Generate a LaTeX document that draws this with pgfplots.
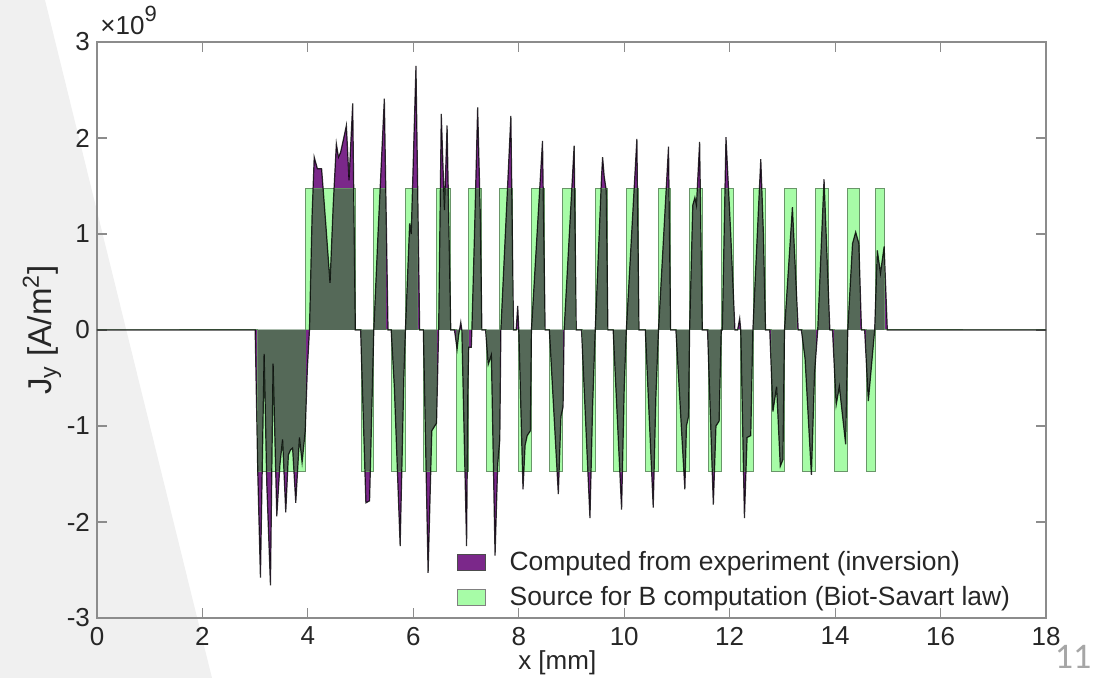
\documentclass[border=0pt]{standalone}
\usepackage{fontspec}
\setmainfont{Liberation Sans}
\newfontfamily\carlito{Carlito}
\usepackage{pgfplots}
\pgfplotsset{compat=1.18}
\usepackage{pgfplotstable}
\usetikzlibrary{backgrounds}

\definecolor{mpurple}{RGB}{123,40,138}
\definecolor{mgreen}{RGB}{152,251,152}
\definecolor{medge}{RGB}{105,150,105}
\definecolor{mdark}{RGB}{85,105,88}
\definecolor{axgray}{RGB}{140,140,140}
\definecolor{txt}{RGB}{38,38,38}
\definecolor{bggray}{RGB}{240,240,240}

% computed current density (units of 1e9 A/m^2)
\pgfplotstableread{
x y
0 0
3.00 0
3.05 -1.50
3.10 -2.58
3.17 -0.25
3.22 -1.60
3.29 -2.66
3.34 -0.35
3.41 -1.94
3.47 -1.40
3.52 -1.14
3.58 -1.90
3.63 -1.30
3.67 -1.25
3.71 -1.23
3.77 -1.80
3.84 -1.12
3.89 -1.38
3.95 -1.05
3.99 -0.40
4.03 0
4.08 1.20
4.12 1.80
4.18 1.68
4.26 1.68
4.34 1.10
4.42 0.49
4.48 1.30
4.54 1.94
4.58 1.80
4.62 1.85
4.68 2.00
4.73 2.13
4.78 1.56
4.85 2.36
4.90 0
5.00 0
5.10 -1.80
5.17 -1.78
5.25 0
5.33 1.00
5.45 2.41
5.52 0
5.58 0
5.64 -0.60
5.75 -2.25
5.82 -0.50
5.85 0
5.93 1.11
5.96 1.00
6.05 2.75
6.12 0
6.19 0
6.28 -2.53
6.35 -1.05
6.44 -0.97
6.48 0
6.53 2.25
6.59 1.25
6.64 2.13
6.71 0
6.78 0
6.83 -0.20
6.86 -0.05
6.90 0.08
6.92 0
7.01 -2.25
7.035 -0.60
7.05 -0.18
7.10 -0.18
7.11 0
7.16 1.00
7.22 2.32
7.27 1.20
7.30 0
7.37 0
7.42 -0.36
7.48 -0.26
7.55 -2.35
7.60 -1.40
7.64 -1.14
7.66 0
7.85 2.23
7.90 0
7.95 0
7.98 0.25
8.00 0
8.08 -1.66
8.12 -1.20
8.16 -1.10
8.22 -1.05
8.24 0
8.45 1.97
8.50 0
8.58 0
8.75 -1.71
8.80 -0.90
8.84 -0.80
8.86 0
9.05 1.92
9.09 0
9.19 0
9.35 -1.96
9.40 -0.80
9.45 0
9.57 1.60
9.59 1.80
9.62 1.60
9.66 1.45
9.69 0
9.79 0
9.95 -1.87
10.00 -0.60
10.04 0
10.24 1.99
10.28 0
10.40 0
10.55 -1.85
10.60 -0.70
10.65 0
10.84 1.91
10.88 0
10.98 0
11.15 -1.66
11.18 -1.00
11.22 -0.90
11.24 0
11.30 1.30
11.34 1.38
11.37 1.30
11.43 1.96
11.48 0
11.58 0
11.69 -1.82
11.74 -1.00
11.80 -0.95
11.84 0
11.86 0
11.93 2.01
12.02 1.00
12.10 0
12.15 0
12.19 0.12
12.21 0
12.28 -1.96
12.33 -1.12
12.40 -1.10
12.44 0
12.59 1.78
12.64 1.00
12.68 0
12.76 0
12.82 -0.85
12.89 -0.59
12.96 -1.42
13.01 -1.35
13.04 0
13.19 1.28
13.30 0
13.36 0
13.43 -0.30
13.55 -1.51
13.61 -0.45
13.67 0
13.79 1.57
13.90 0
13.95 0
14.02 -0.78
14.08 -0.59
14.20 -1.19
14.24 0
14.33 0.90
14.39 1.02
14.45 0.90
14.50 0
14.56 0
14.63 -0.74
14.75 0
14.80 0.83
14.86 0.59
14.93 0.87
14.99 0
18 0
}\curve

% source for B computation (step function, value holds to next x)
\pgfplotstableread{
x y
0 0
3.05 -1.47
3.96 1.47
4.90 0
5.01 -1.47
5.25 1.47
5.48 0
5.59 -1.47
5.845 1.47
6.08 0
6.20 -1.47
6.445 1.47
6.70 0
6.81 -1.47
7.05 1.47
7.29 0
7.39 -1.47
7.64 1.47
7.88 0
7.99 -1.47
8.245 1.47
8.49 0
8.59 -1.47
8.835 1.47
9.07 0
9.21 -1.47
9.45 1.47
9.68 0
9.79 -1.47
10.04 1.47
10.27 0
10.41 -1.47
10.65 1.47
10.87 0
10.99 -1.47
11.24 1.47
11.48 0
11.59 -1.47
11.84 1.47
12.08 0
12.20 -1.47
12.445 1.47
12.67 0
12.79 -1.47
13.04 1.47
13.27 0
13.38 -1.47
13.635 1.47
13.88 0
13.98 -1.47
14.235 1.47
14.47 0
14.59 -1.47
14.76 1.47
14.93 0
18 0
}\rects

\newcommand{\PX}[2]{([xshift={((#1)-97)*0.5pt},yshift={(618-(#2))*0.5pt}]ax.south west)}

\begin{document}
\begin{tikzpicture}
\begin{axis}[name=ax, scale only axis, width=474.5pt, height=288pt,
  xmin=0, xmax=18, ymin=-3, ymax=3,
  xtick={0,2,...,18}, xticklabels={0,2,4,6,8,10,12,14,16,18},
  ytick={-3,-2,...,3}, yticklabels={-3,-2,-1,0,1,2,3},
  tick align=inside, xtick pos=both, ytick pos=both, major tick length=5pt,
  axis line style={axgray, line width=0.6pt},
  every tick/.style={axgray, line width=0.6pt},
  tick label style={txt, font=\fontsize{13}{15}\selectfont},
  xticklabel style={yshift=-1pt},
  xlabel={x [mm]}, ylabel={J\textsubscript{y} [A/m\textsuperscript{2}]},
  every axis x label/.style={at={(axis description cs:0.485,-0.078)}, anchor=center,
    text=txt, font=\fontsize{13}{15}\selectfont},
  every axis y label/.style={at={(axis description cs:-0.058,0.5)}, rotate=90, anchor=center,
    text=txt, font=\fontsize{16.5}{19}\selectfont},
  no markers,
  legend cell align=left,
  legend style={at={(rel axis cs:0.973,0.002)}, anchor=south east, draw=none, fill=none,
    font=\fontsize{13.2}{15.5}\selectfont, text=txt, row sep=2.5pt, column sep=10pt},
  mylegend/.style={legend image code/.code={\draw[##1] (0pt,-4pt) rectangle (14pt,4pt);}},
]
\addplot[fill=mpurple, draw=none, forget plot] table {\curve} \closedcycle;
\addplot[const plot, fill=mgreen, fill opacity=0.85, draw=medge, line width=0.5pt, forget plot] table {\rects} \closedcycle;
\begin{scope}
\clip \foreach \a/\b/\c in {3.05/3.96/4.90, 5.01/5.25/5.48, 5.59/5.845/6.08, 6.20/6.445/6.70, 6.81/7.05/7.29, 7.39/7.64/7.88, 7.99/8.245/8.49, 8.59/8.835/9.07, 9.21/9.45/9.68, 9.79/10.04/10.27, 10.41/10.65/10.87, 10.99/11.24/11.48, 11.59/11.84/12.08, 12.20/12.445/12.67, 12.79/13.04/13.27, 13.38/13.635/13.88, 13.98/14.235/14.47, 14.59/14.76/14.93} { (axis cs:\a,-1.47) rectangle (axis cs:\b,0) (axis cs:\b,0) rectangle (axis cs:\c,1.47) };
\addplot[fill=mdark, draw=none, forget plot] table {\curve} \closedcycle;
\end{scope}
\addplot[draw=black, line width=0.6pt, draw opacity=0.8, forget plot] table {\curve};
\addlegendimage{mylegend, fill=mpurple, draw=black!70}
\addlegendentry{Computed from experiment (inversion)}
\addlegendimage{mylegend, fill=mgreen!85!white, draw=black!50}
\addlegendentry{Source for B computation (Biot-Savart law)}
\end{axis}
\node[anchor=base west, inner sep=0pt, text=txt, font=\fontsize{13}{15}\selectfont] at ([xshift=1.5pt, yshift=3.5pt]ax.north west) {×10\raisebox{0.5em}{\fontsize{11}{11}\selectfont 9}};
\begin{scope}[on background layer]
\fill[bggray] \PX{0}{0} -- \PX{45}{0} -- \PX{212}{678} -- \PX{0}{678} -- cycle;
\end{scope}
\node[text=black!35, font=\carlito\fontsize{18}{18}\selectfont] at \PX{1073}{657} {11};
\pgfresetboundingbox
\useasboundingbox \PX{0}{0} rectangle \PX{1095}{678};
\end{tikzpicture}
\end{document}
